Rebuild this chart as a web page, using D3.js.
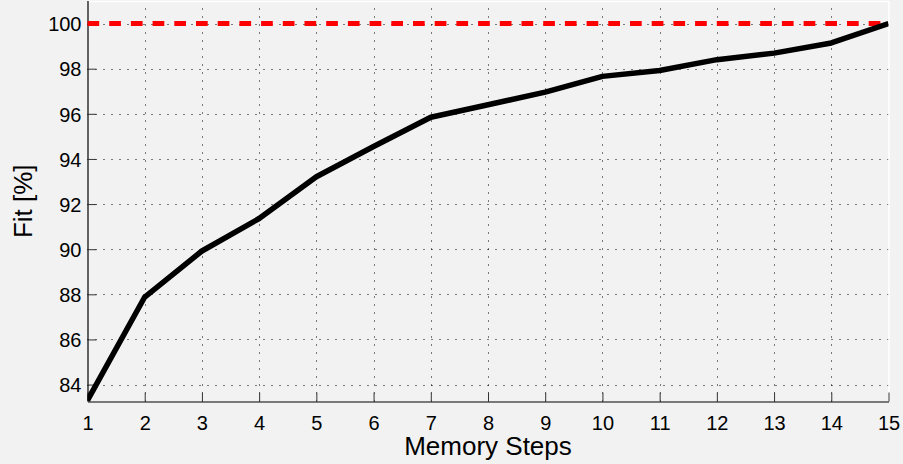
<!DOCTYPE html>
<html>
<head>
<meta charset="utf-8">
<script src="https://cdn.jsdelivr.net/npm/d3@7/dist/d3.min.js"></script>
<style>
  html, body { margin: 0; padding: 0; background: #f2f2f2; }
  svg { display: block; }
  text { font-family: "Liberation Sans", Arial, Helvetica, sans-serif; fill: #000; }
</style>
</head>
<body>
<svg id="chart" width="903" height="464"></svg>
<script>
const steps = [1, 2, 3, 4, 5, 6, 7, 8, 9, 10, 11, 12, 13, 14, 15];
const fitValues = [83.3, 87.88, 89.92, 91.36, 93.21, 94.55, 95.85, 96.4, 96.96, 97.66, 97.92, 98.4, 98.69, 99.14, 100.0];
const referenceLevel = [100];
const xTicks = [1, 2, 3, 4, 5, 6, 7, 8, 9, 10, 11, 12, 13, 14, 15];
const yTicks = [84, 86, 88, 90, 92, 94, 96, 98, 100];
const xLabel = "Memory Steps";
const yLabel = "Fit [%]";

const W = 903, H = 464;
const m = { left: 87.5, right: 903 - 888.5, top: 1, bottom: 464 - 401.5 };
const svg = d3.select("#chart");

svg.append("rect").attr("width", W).attr("height", H).attr("fill", "#f2f2f2");

const x = d3.scaleLinear().domain([1, 15]).range([m.left, W - m.right]);
const y = d3.scaleLinear().domain([83.25, 101]).range([H - m.bottom, m.top]);

const x0 = x.range()[0], x1 = x.range()[1];
const y0 = y.range()[0], y1 = y.range()[1];

// grid
const grid = svg.append("g");
grid.selectAll("line.vg").data(xTicks.slice(1, -1)).join("line")
  .attr("x1", d => Math.round(x(d)) + 0.5).attr("x2", d => Math.round(x(d)) + 0.5)
  .attr("y1", y0).attr("y2", y1)
  .attr("stroke", "#000").attr("stroke-width", 1).attr("stroke-dasharray", "1,7");
grid.selectAll("line.hg").data(yTicks).join("line")
  .attr("y1", d => Math.round(y(d)) + 0.5).attr("y2", d => Math.round(y(d)) + 0.5)
  .attr("x1", x0).attr("x2", x1)
  .attr("stroke", "#000").attr("stroke-width", 1).attr("stroke-dasharray", "1,7");

// top and right white box lines
svg.append("line").attr("x1", x0).attr("x2", x1 + 1).attr("y1", y1 + 0.5).attr("y2", y1 + 0.5)
  .attr("stroke", "#fff").attr("stroke-width", 1.5);
svg.append("line").attr("x1", x1 + 0.5).attr("x2", x1 + 0.5).attr("y1", y1).attr("y2", y0)
  .attr("stroke", "#fff").attr("stroke-width", 1.5);

// axes
const xAxis = d3.axisBottom(x).tickValues(xTicks).tickFormat(d3.format("d")).tickSizeInner(-9).tickSizeOuter(0).tickPadding(14);
const yAxis = d3.axisLeft(y).tickValues(yTicks).tickFormat(d3.format("d")).tickSizeInner(-9).tickSizeOuter(0).tickPadding(6);

const gx = svg.append("g").attr("transform", `translate(0,${y0})`).call(xAxis);
const gy = svg.append("g").attr("transform", `translate(${x0},0)`).call(yAxis);
[gx, gy].forEach(g => {
  g.select(".domain").attr("stroke", "#000").attr("stroke-width", 1.2);
  g.selectAll(".tick line").attr("stroke", "#333").attr("stroke-width", 1);
  g.selectAll(".tick text").style("font-family", '"Liberation Sans", Arial, sans-serif')
    .style("font-size", "20px").attr("fill", "#000");
});
gy.select(".domain").attr("d", `M0.5,${y0}V${y1}`);
gy.selectAll(".tick text").attr("dy", "0.36em").attr("x", -6);

// reference line
const refLine = d3.line().x(d => x(d)).y(() => y(referenceLevel[0]));
svg.append("path").datum([1, 15]).attr("d", refLine)
  .attr("fill", "none").attr("stroke", "#ff0000").attr("stroke-width", 5)
  .attr("stroke-dasharray", "11.7,10");

// data line
const clip = svg.append("clipPath").attr("id", "plotclip").append("rect")
  .attr("x", x0).attr("y", y1).attr("width", x1 - x0).attr("height", y0 - y1 + 1);
const line = d3.line().x((d, i) => x(steps[i])).y(d => y(d));
svg.append("path").datum(fitValues).attr("d", line)
  .attr("clip-path", "url(#plotclip)")
  .attr("fill", "none").attr("stroke", "#000").attr("stroke-width", 5.5)
  .attr("stroke-linejoin", "round");

// labels
svg.append("text").attr("x", (x0 + x1) / 2).attr("y", 455).attr("text-anchor", "middle")
  .style("font-size", "26px").text(xLabel);
svg.append("text").attr("transform", `translate(32,${(y0 + y1) / 2}) rotate(-90)`)
  .attr("text-anchor", "middle").style("font-size", "26px").text(yLabel);
</script>
</body>
</html>
